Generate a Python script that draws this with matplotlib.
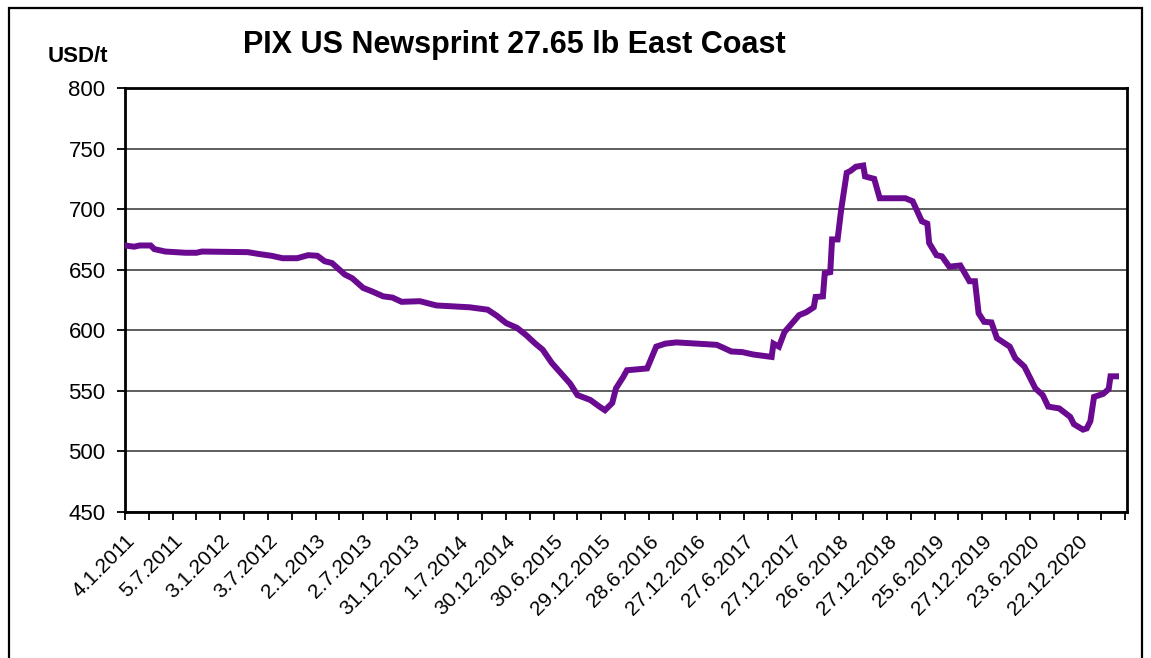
import matplotlib
matplotlib.use('Agg')
import matplotlib.pyplot as plt
from matplotlib.patches import Rectangle

plt.rcParams['font.family'] = ['Liberation Sans', 'DejaVu Sans']

# weekly series as (week number, USD/t) turning points
weeks = [0, 5, 8, 14, 16, 22, 33, 39, 42, 67, 73, 80, 86, 94, 100, 105, 109, 113,
         120, 124, 130, 135, 141, 146, 151, 161, 170, 188, 198, 203, 208, 214, 219,
         224, 228, 233, 238, 243, 247, 254, 259, 262, 266, 268, 272, 274, 285, 290,
         295, 301, 323, 326, 331, 337, 343, 353, 354, 357, 360, 364, 368, 372, 376,
         377, 381, 382, 385, 386, 389, 391, 394, 396, 399, 403, 404, 409, 412, 426,
         430, 435, 438, 439, 443, 446, 450, 456, 461, 464, 466, 469, 473, 476, 483,
         486, 491, 497, 501, 504, 510, 516, 518, 523, 525, 527, 529, 534, 537, 538, 541]
prices = [670, 669, 670, 670, 667, 665, 664, 664, 665, 664.5, 663, 661.5, 659.5, 659.5,
          662, 661.5, 657, 655.5, 646, 643, 635, 632, 628, 627, 623.5, 624, 620.5, 619,
          617, 612, 606, 602, 596, 589, 584, 573, 564.5, 556, 546.5, 542.5, 537, 534,
          540, 552, 561.5, 567, 568.5, 586.5, 589, 590, 588, 586, 582.5, 582, 580, 578,
          589, 586.5, 598.5, 605.5, 612.5, 615, 619, 627.5, 628, 647, 648, 675, 675,
          700, 730, 731.5, 735, 736, 727, 725, 709, 709, 706.5, 690, 688, 672, 662, 661,
          652.5, 653.5, 640.5, 640.5, 614, 607, 606.5, 593.5, 586.5, 577, 570, 552,
          546.5, 537, 535.5, 528.5, 522.5, 518, 519, 525, 545, 547.5, 551.5, 562, 562]

tick_labels = ['4.1.2011', '5.7.2011', '3.1.2012', '3.7.2012', '2.1.2013', '2.7.2013',
               '31.12.2013', '1.7.2014', '30.12.2014', '30.6.2015', '29.12.2015',
               '28.6.2016', '27.12.2016', '27.6.2017', '27.12.2017', '26.6.2018',
               '27.12.2018', '25.6.2019', '27.12.2019', '23.6.2020', '22.12.2020']

fig = plt.figure(figsize=(11.51, 6.58), dpi=100)
# outer frame of the chart box
fig.patches.append(Rectangle((9/1151, -0.05), 1133/1151, 1.05 - 8/658, transform=fig.transFigure,
                             fill=False, edgecolor='black', linewidth=1.6))

ax = fig.add_axes([125/1151, 1 - 512/658, 1002/1151, 424/658])
ax.plot(weeks, prices, color='#6A0A91', linewidth=4.3, solid_joinstyle='miter', zorder=3)

ax.set_ylim(450, 800)
ax.set_yticks(range(450, 801, 50))
ax.set_xlim(0, 547)
ax.set_xticks([26 * i for i in range(len(tick_labels))])
ax.set_xticklabels(tick_labels, rotation=45, ha='right', rotation_mode='anchor', fontsize=15)
ax.set_xticks(range(13, 547, 13), minor=True)
ax.yaxis.grid(True, color='#333333', linewidth=1.1)
ax.set_axisbelow(True)

ax.tick_params(axis='y', labelsize=16, length=6, width=1.3, pad=8)
ax.tick_params(axis='x', which='both', length=6, width=1.3, pad=8)
for s in ax.spines.values():
    s.set_linewidth(2)

fig.text(243/1151, 1 - 45/658, 'PIX US Newsprint 27.65 lb East Coast', fontsize=22,
         fontweight='bold', ha='left', va='center')
fig.text(48/1151, 1 - 57/658, 'USD/t', fontsize=16, fontweight='bold', ha='left', va='center')

fig.savefig('out.png', dpi=100)
